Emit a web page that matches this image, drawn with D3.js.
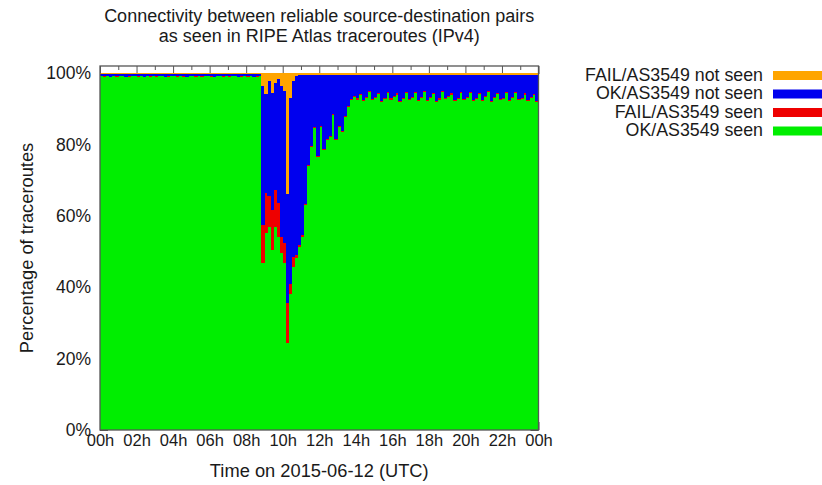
<!DOCTYPE html>
<html>
<head>
<meta charset="utf-8">
<script src="https://cdn.jsdelivr.net/npm/d3@7"></script>
<style>
  body { margin: 0; background: #fff; }
  text { font-family: "Liberation Sans", Arial, Helvetica, sans-serif; fill: #1a1a1a; }
</style>
</head>
<body>
<script>
const width = 822;
const height = 485;

// one value per 10-minute bin, 144 bins for the day (percent of traceroutes)
const okSeen = [
  99.1, 99.0, 99.2, 98.9, 99.1, 99.0, 99.2, 99.1, 98.9, 99.0, 99.1, 99.2,
  99.0, 99.1, 98.9, 99.2, 99.0, 99.1, 99.0, 99.2, 99.1, 98.9, 99.0, 99.1,
  99.2, 99.0, 99.1, 99.0, 98.9, 99.1, 99.2, 99.0, 99.1, 99.0, 99.2, 99.1,
  99.0, 98.9, 99.1, 99.2, 99.0, 99.1, 99.0, 99.1, 99.2, 98.9, 99.0, 99.1,
  99.0, 99.1, 98.9, 99.0, 99.1, 46.7, 55.1, 56.9, 50.4, 56.9, 54.2, 49.5,
  46.7, 24.4, 38.0, 45.8, 48.1, 51.4, 54.2, 63.0, 74.0, 79.4, 84.5, 76.6,
  85.0, 78.4, 81.2, 82.2, 88.2, 81.2, 85.0, 83.6, 87.7, 90.6, 92.4, 93.4,
  92.6, 93.8, 92.1, 92.9, 94.6, 92.4, 93.1, 94.2, 92.0, 92.8, 94.5, 92.6,
  93.3, 94.0, 91.9, 92.7, 94.3, 92.5, 93.0, 94.4, 92.2, 93.1, 94.6, 92.3,
  92.9, 94.1, 92.0, 92.6, 94.7, 92.8, 93.2, 94.0, 92.1, 92.7, 94.3, 92.4,
  93.0, 94.5, 92.2, 92.8, 94.1, 92.3, 93.3, 94.6, 92.0, 92.9, 94.2, 92.5,
  92.8, 94.3, 92.1, 93.0, 94.5, 92.4, 92.7, 94.0, 92.2, 93.1, 93.9, 91.9
];
const failSeen = [
  0.1, 0.1, 0.1, 0.1, 0.1, 0.1, 0.1, 0.1, 0.1, 0.1, 0.1, 0.1,
  0.1, 0.1, 0.1, 0.1, 0.1, 0.1, 0.1, 0.1, 0.1, 0.1, 0.1, 0.1,
  0.1, 0.1, 0.1, 0.1, 0.1, 0.1, 0.1, 0.1, 0.1, 0.1, 0.1, 0.1,
  0.1, 0.1, 0.1, 0.1, 0.1, 0.1, 0.1, 0.1, 0.1, 0.1, 0.1, 0.1,
  0.1, 0.1, 0.1, 0.1, 0.1, 10.7, 11.3, 8.6, 11.2, 10.3, 9.4, 4.7,
  5.6, 11.1, 3.0, 2.7, 0.8, 0.5, 0.5, 0.4, 0.3, 0.3, 0.3, 0.3,
  0.3, 0.3, 0.3, 0.3, 0.3, 0.3, 0.3, 0.3, 0.3, 0.3, 0.3, 0.3,
  0.3, 0.3, 0.3, 0.3, 0.3, 0.3, 0.3, 0.3, 0.3, 0.3, 0.3, 0.3,
  0.3, 0.3, 0.3, 0.3, 0.3, 0.3, 0.3, 0.3, 0.3, 0.3, 0.3, 0.3,
  0.3, 0.3, 0.3, 0.3, 0.3, 0.3, 0.3, 0.3, 0.3, 0.3, 0.3, 0.3,
  0.3, 0.3, 0.3, 0.3, 0.3, 0.3, 0.3, 0.3, 0.3, 0.3, 0.3, 0.3,
  0.3, 0.3, 0.3, 0.3, 0.3, 0.3, 0.3, 0.3, 0.3, 0.3, 0.3, 0.3
];
const okNotSeen = [
  0.5, 0.6, 0.4, 0.7, 0.5, 0.6, 0.4, 0.5, 0.7, 0.6, 0.5, 0.4,
  0.6, 0.5, 0.7, 0.4, 0.6, 0.5, 0.6, 0.4, 0.5, 0.7, 0.6, 0.5,
  0.4, 0.6, 0.5, 0.6, 0.7, 0.5, 0.4, 0.6, 0.5, 0.6, 0.4, 0.5,
  0.6, 0.7, 0.5, 0.4, 0.6, 0.5, 0.6, 0.5, 0.4, 0.7, 0.6, 0.5,
  0.6, 0.5, 0.7, 0.6, 0.5, 39.0, 27.7, 32.3, 32.8, 30.0, 34.7, 42.2,
  42.7, 30.5, 52.0, 49.3, 50.3, 47.6, 44.8, 36.2, 25.3, 19.9, 14.8, 22.7,
  14.3, 20.9, 18.1, 17.1, 11.1, 18.1, 14.3, 15.7, 11.6, 8.7, 6.9, 5.9,
  6.7, 5.5, 7.2, 6.4, 4.7, 6.9, 6.2, 5.1, 7.3, 6.5, 4.8, 6.7,
  6.0, 5.3, 7.4, 6.6, 5.0, 6.8, 6.3, 4.9, 7.1, 6.2, 4.7, 7.0,
  6.4, 5.2, 7.3, 6.7, 4.6, 6.5, 6.1, 5.3, 7.2, 6.6, 5.0, 6.9,
  6.3, 4.8, 7.1, 6.5, 5.2, 7.0, 6.0, 4.7, 7.3, 6.4, 5.1, 6.8,
  6.5, 5.0, 7.2, 6.3, 4.8, 6.9, 6.6, 5.3, 7.1, 6.2, 5.4, 7.4
];
const failNotSeen = [
  0.3, 0.3, 0.3, 0.3, 0.3, 0.3, 0.3, 0.3, 0.3, 0.3, 0.3, 0.3,
  0.3, 0.3, 0.3, 0.3, 0.3, 0.3, 0.3, 0.3, 0.3, 0.3, 0.3, 0.3,
  0.3, 0.3, 0.3, 0.3, 0.3, 0.3, 0.3, 0.3, 0.3, 0.3, 0.3, 0.3,
  0.3, 0.3, 0.3, 0.3, 0.3, 0.3, 0.3, 0.3, 0.3, 0.3, 0.3, 0.3,
  0.3, 0.3, 0.3, 0.3, 0.3, 3.6, 5.9, 2.2, 5.6, 2.8, 1.7, 3.6,
  5.0, 34.0, 7.0, 2.2, 0.8, 0.5, 0.5, 0.4, 0.4, 0.4, 0.4, 0.4,
  0.4, 0.4, 0.4, 0.4, 0.4, 0.4, 0.4, 0.4, 0.4, 0.4, 0.4, 0.4,
  0.4, 0.4, 0.4, 0.4, 0.4, 0.4, 0.4, 0.4, 0.4, 0.4, 0.4, 0.4,
  0.4, 0.4, 0.4, 0.4, 0.4, 0.4, 0.4, 0.4, 0.4, 0.4, 0.4, 0.4,
  0.4, 0.4, 0.4, 0.4, 0.4, 0.4, 0.4, 0.4, 0.4, 0.4, 0.4, 0.4,
  0.4, 0.4, 0.4, 0.4, 0.4, 0.4, 0.4, 0.4, 0.4, 0.4, 0.4, 0.4,
  0.4, 0.4, 0.4, 0.4, 0.4, 0.4, 0.4, 0.4, 0.4, 0.4, 0.4, 0.4
];

const keys = ['okSeen', 'failSeen', 'okNotSeen', 'failNotSeen'];
const labels = ['OK/AS3549 seen', 'FAIL/AS3549 seen', 'OK/AS3549 not seen', 'FAIL/AS3549 not seen'];
const colours = ['#00ee00', '#ee0000', '#0000ee', '#ffa500'];
const xTickLabels = ['00h', '02h', '04h', '06h', '08h', '10h', '12h', '14h', '16h', '18h', '20h', '22h', '00h'];
const yTicks = [0, 20, 40, 60, 80, 100];
const binHours = 1 / 6;

const rows = okSeen.map((v, i) => ({
  t: i * binHours,
  okSeen: v,
  failSeen: failSeen[i],
  okNotSeen: okNotSeen[i],
  failNotSeen: failNotSeen[i]
}));

const plot = {left: 100, right: 538.5, top: 66, bottom: 430};

const x = d3.scaleLinear().domain([0, 24]).range([plot.left, plot.right]);
const y = d3.scaleLinear().domain([0, 102]).range([plot.bottom, plot.top]);

const svg = d3.select('body').append('svg')
  .attr('width', width)
  .attr('height', height);

// ticks first, bars cover them like in the gnuplot output
const xMinor = d3.range(1, 24, 2);

svg.append('g')
  .attr('transform', `translate(0,${plot.bottom})`)
  .call(d3.axisBottom(x)
    .tickValues(d3.range(0, 25, 2))
    .tickFormat((d) => xTickLabels[d / 2])
    .tickSizeInner(-8).tickSizeOuter(0).tickPadding(4))
  .call((g) => g.select('.domain').remove())
  .call((g) => g.selectAll('text').style('font-size', '16.5px'))
  .call((g) => g.selectAll('line').attr('stroke', '#555'));

svg.append('g')
  .attr('transform', `translate(0,${plot.top})`)
  .call(d3.axisTop(x).tickValues(d3.range(0, 25, 2)).tickFormat('').tickSizeInner(-8).tickSizeOuter(0))
  .call((g) => g.select('.domain').remove())
  .call((g) => g.selectAll('line').attr('stroke', '#555'));

svg.append('g')
  .attr('transform', `translate(0,${plot.top})`)
  .call(d3.axisTop(x).tickValues(xMinor).tickFormat('').tickSizeInner(-4).tickSizeOuter(0))
  .call((g) => g.select('.domain').remove())
  .call((g) => g.selectAll('line').attr('stroke', '#555'));

svg.append('g')
  .attr('transform', `translate(${plot.left},0)`)
  .call(d3.axisLeft(y)
    .tickValues(yTicks)
    .tickFormat((d) => d + '%')
    .tickSizeInner(-8).tickSizeOuter(0).tickPadding(9))
  .call((g) => g.select('.domain').remove())
  .call((g) => g.selectAll('text').style('font-size', '17.5px'))
  .call((g) => g.selectAll('line').attr('stroke', '#555'));

svg.append('g')
  .attr('transform', `translate(${plot.right},0)`)
  .call(d3.axisRight(y).tickValues(yTicks).tickFormat('').tickSizeInner(-8).tickSizeOuter(0))
  .call((g) => g.select('.domain').remove())
  .call((g) => g.selectAll('line').attr('stroke', '#555'));

// stacked bars
const stacked = d3.stack().keys(keys)(rows);

svg.append('g')
  .attr('shape-rendering', 'crispEdges')
  .selectAll('g')
  .data(stacked)
  .join('g')
    .attr('fill', (d, i) => colours[i])
  .selectAll('rect')
  .data((d) => d)
  .join('rect')
    .attr('x', (d) => x(d.data.t))
    .attr('width', (d) => x(d.data.t + binHours) - x(d.data.t) + 0.3)
    .attr('y', (d) => y(d[1]))
    .attr('height', (d) => Math.max(0, y(d[0]) - y(d[1])));

// frame
svg.append('rect')
  .attr('x', plot.left)
  .attr('y', plot.top)
  .attr('width', plot.right - plot.left)
  .attr('height', plot.bottom - plot.top)
  .attr('fill', 'none')
  .attr('stroke', '#555')
  .attr('stroke-width', 1.3);

// titles
const midX = (plot.left + plot.right) / 2;
svg.append('text')
  .attr('x', midX).attr('y', 16).attr('dy', '0.35em')
  .attr('text-anchor', 'middle').style('font-size', '18px')
  .text('Connectivity between reliable source-destination pairs');
svg.append('text')
  .attr('x', midX).attr('y', 35.5).attr('dy', '0.35em')
  .attr('text-anchor', 'middle').style('font-size', '18px')
  .text('as seen in RIPE Atlas traceroutes (IPv4)');

svg.append('text')
  .attr('x', midX).attr('y', 471).attr('dy', '0.35em')
  .attr('text-anchor', 'middle').style('font-size', '18.3px')
  .text('Time on 2015-06-12 (UTC)');

svg.append('text')
  .attr('transform', `translate(27,${(plot.top + plot.bottom) / 2}) rotate(-90)`)
  .attr('dy', '0.35em')
  .attr('text-anchor', 'middle').style('font-size', '18.3px')
  .text('Percentage of traceroutes');

// legend, top entry is the top of the stack
const legendItems = keys.map((k, i) => ({label: labels[i], colour: colours[i]})).reverse();
const legend = svg.append('g')
  .selectAll('g')
  .data(legendItems)
  .join('g')
    .attr('transform', (d, i) => `translate(0,${74.5 + i * 18.5})`);

legend.append('text')
  .attr('x', 763)
  .attr('dy', '0.35em')
  .attr('text-anchor', 'end')
  .style('font-size', '17.8px')
  .text((d) => d.label);

legend.append('rect')
  .attr('x', 773)
  .attr('y', -3.5)
  .attr('width', 60)
  .attr('height', 9)
  .attr('fill', (d) => d.colour);
</script>
</body>
</html>
